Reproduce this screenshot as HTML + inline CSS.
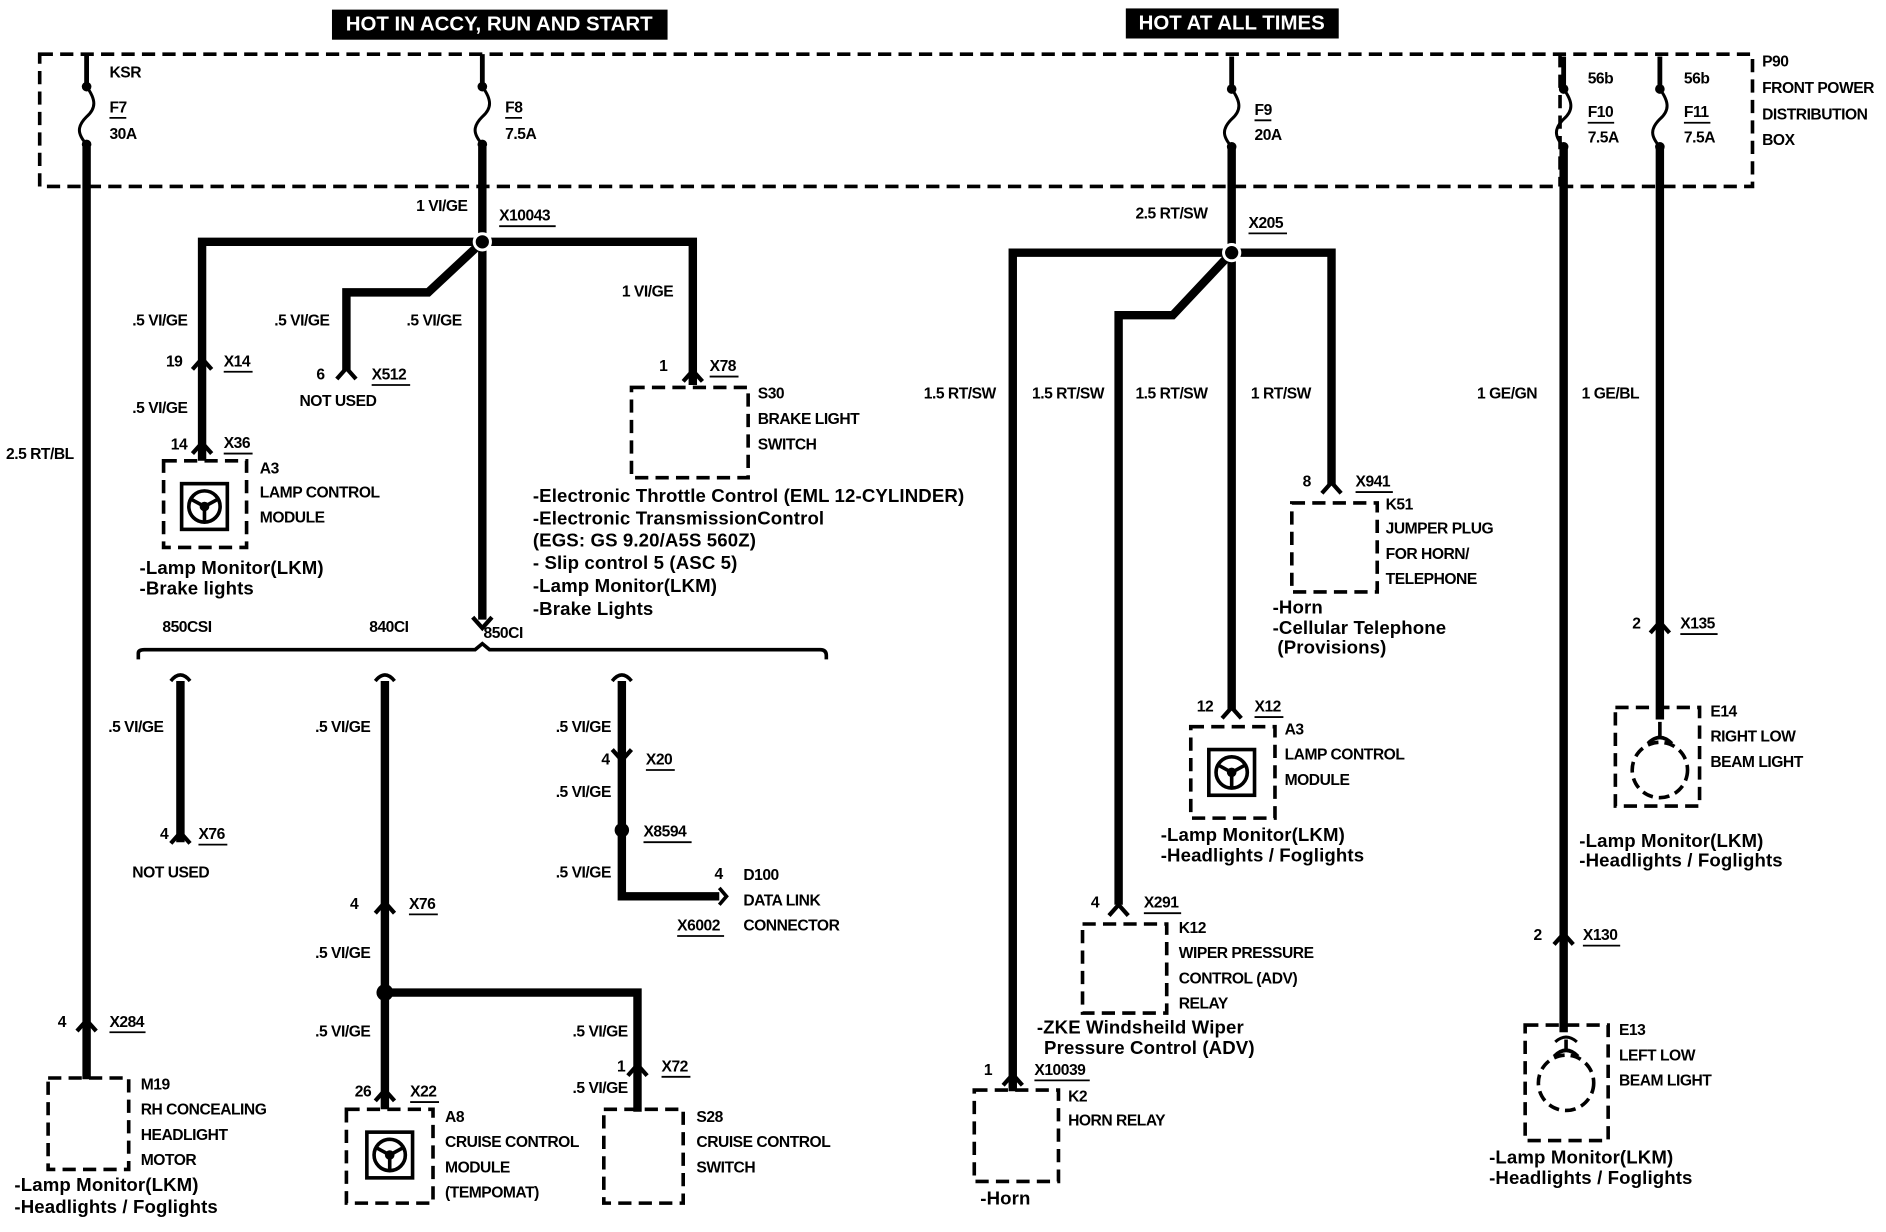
<!DOCTYPE html>
<html><head><meta charset="utf-8"><style>
html,body{margin:0;padding:0;background:#fff}
svg{display:block}
text{font-family:"Liberation Sans",Arial,sans-serif;font-weight:bold;fill:#000;dominant-baseline:middle}
.s{font-size:13px;letter-spacing:-0.4px}
.l{font-size:15.5px;letter-spacing:0.1px}
.h{font-size:17px;fill:#fff}
.w{stroke:#000;stroke-width:7;fill:none;stroke-linejoin:miter}
.d{stroke:#000;stroke-width:3;fill:none;stroke-dasharray:11 6}
.t{stroke:#000;stroke-width:2.5;fill:none}
.u{stroke:#000;stroke-width:1.5}
</style></head><body>
<svg width="1886" height="1232" viewBox="0 0 1568 1024" preserveAspectRatio="none" xmlns="http://www.w3.org/2000/svg">
<defs>
<path id="c" d="M-8,7 L0,-2 L8,7" stroke="#000" stroke-width="3.5" fill="none"/>
<path id="cd" d="M-8,-7 L0,2 L8,-7" stroke="#000" stroke-width="3.5" fill="none"/>
<g id="fuse"><line x1="0" y1="0" x2="0" y2="27" stroke="#000" stroke-width="4"/><circle cx="0" cy="27" r="4"/><path d="M0,27 C8,38 8,45 0,52 C-8,60 -8,66 0,75" stroke="#000" stroke-width="2.5" fill="none"/><circle cx="0" cy="75" r="4"/></g>
<g id="steer"><rect x="-19" y="-19" width="38" height="38" fill="none" stroke="#000" stroke-width="3"/><circle r="13" fill="none" stroke="#000" stroke-width="3"/><circle r="4"/><path d="M0,0 L-11,-6 M0,0 L11,-6 M0,0 L0,13" stroke="#000" stroke-width="3"/></g>
<g id="lamp"><circle r="23" fill="none" stroke="#000" stroke-width="3" stroke-dasharray="9 5"/><path d="M-10,-22 Q0,-32 10,-22" stroke="#000" stroke-width="3" fill="none"/><line x1="0" y1="-40" x2="0" y2="-27" stroke="#000" stroke-width="3"/></g>
</defs>
<rect x="0" y="0" width="1568" height="1024" fill="#fff"/>
<rect x="276" y="8" width="279" height="25" fill="#000"/><text class="h" x="415" y="21" text-anchor="middle">HOT IN ACCY, RUN AND START</text>
<rect x="936" y="7" width="177" height="25" fill="#000"/><text class="h" x="1024" y="20" text-anchor="middle">HOT AT ALL TIMES</text>
<path class="d" d="M33,45 H1457 V155 H33 Z"/>
<path class="d" d="M1297,45 V155"/>
<text class="s" x="1465" y="52">P90</text><text class="s" x="1465" y="74">FRONT POWER</text><text class="s" x="1465" y="96">DISTRIBUTION</text><text class="s" x="1465" y="117">BOX</text>
<use href="#fuse" x="72" y="45"/><use href="#fuse" x="401" y="45"/><use href="#fuse" x="1024" y="47"/><use href="#fuse" x="1300" y="47"/><use href="#fuse" x="1380" y="47"/>
<text class="s" x="91" y="61">KSR</text><text class="s" x="91" y="90">F7</text><line class="u" x1="91" y1="98" x2="105" y2="98"/><text class="s" x="91" y="112">30A</text>
<text class="s" x="420" y="90">F8</text><line class="u" x1="420" y1="98" x2="434" y2="98"/><text class="s" x="420" y="112">7.5A</text>
<text class="s" x="1043" y="92">F9</text><line class="u" x1="1043" y1="100" x2="1057" y2="100"/><text class="s" x="1043" y="113">20A</text>
<text class="s" x="1320" y="66">56b</text><text class="s" x="1320" y="94">F10</text><line class="u" x1="1320" y1="102" x2="1342" y2="102"/><text class="s" x="1320" y="115">7.5A</text>
<text class="s" x="1400" y="66">56b</text><text class="s" x="1400" y="94">F11</text><line class="u" x1="1400" y1="102" x2="1422" y2="102"/><text class="s" x="1400" y="115">7.5A</text>

<path class="w" d="M72,122 V897"/><use href="#c" x="72" y="850"/>
<text class="s" x="5" y="378">2.5 RT/BL</text>
<text class="s" x="48" y="850">4</text><text class="s" x="91" y="850">X284</text><line class="u" x1="91" y1="858" x2="121" y2="858"/>
<rect class="d" x="40" y="896" width="67" height="76"/>
<text class="s" x="117" y="902">M19</text><text class="s" x="117" y="923">RH CONCEALING</text><text class="s" x="117" y="944">HEADLIGHT</text><text class="s" x="117" y="965">MOTOR</text>
<text class="l" x="12" y="986">-Lamp Monitor(LKM)</text><text class="l" x="12" y="1004">-Headlights / Foglights</text>

<path class="w" d="M401,122 V515"/>
<text class="s" x="346" y="172">1 VI/GE</text><text class="s" x="415" y="180">X10043</text><line class="u" x1="415" y1="188" x2="462" y2="188"/>
<path class="w" d="M168,383 V201 H576 V320"/>
<path class="w" d="M401,201 L356,243 H288 V308"/>
<circle cx="401" cy="201" r="8" fill="#fff"/><circle cx="401" cy="201" r="5.5"/>
<text class="s" x="110" y="267">.5 VI/GE</text><text class="s" x="228" y="267">.5 VI/GE</text><text class="s" x="338" y="267">.5 VI/GE</text><text class="s" x="517" y="243">1 VI/GE</text>
<use href="#c" x="168" y="300"/><text class="s" x="138" y="301">19</text><text class="s" x="186" y="301">X14</text><line class="u" x1="186" y1="309" x2="210" y2="309"/>
<text class="s" x="110" y="340">.5 VI/GE</text>
<use href="#c" x="168" y="370"/><text class="s" x="142" y="370">14</text><text class="s" x="186" y="369">X36</text><line class="u" x1="186" y1="377" x2="210" y2="377"/>
<rect class="d" x="136" y="383" width="69" height="72"/><use href="#steer" x="170" y="421"/>
<text class="s" x="216" y="390">A3</text><text class="s" x="216" y="410">LAMP CONTROL</text><text class="s" x="216" y="431">MODULE</text>
<text class="l" x="116" y="473">-Lamp Monitor(LKM)</text><text class="l" x="116" y="490">-Brake lights</text>
<use href="#c" x="288" y="308"/><text class="s" x="263" y="312">6</text><text class="s" x="309" y="312">X512</text><line class="u" x1="309" y1="320" x2="341" y2="320"/><text class="s" x="249" y="334">NOT USED</text>
<use href="#c" x="576" y="310"/><text class="s" x="548" y="305">1</text><text class="s" x="590" y="305">X78</text><line class="u" x1="590" y1="313" x2="614" y2="313"/>
<rect class="d" x="525" y="322" width="97" height="75"/>
<text class="s" x="630" y="328">S30</text><text class="s" x="630" y="349">BRAKE LIGHT</text><text class="s" x="630" y="370">SWITCH</text>
<text class="l" x="443" y="413">-Electronic Throttle Control (EML 12-CYLINDER)</text>
<text class="l" x="443" y="432">-Electronic TransmissionControl</text>
<text class="l" x="443" y="450">(EGS: GS 9.20/A5S 560Z)</text>
<text class="l" x="443" y="469">- Slip control 5 (ASC 5)</text>
<text class="l" x="443" y="488">-Lamp Monitor(LKM)</text>
<text class="l" x="443" y="507">-Brake Lights</text>
<use href="#cd" x="401" y="520"/><text class="s" x="402" y="527">850CI</text>
<path class="t" style="stroke-width:3" d="M115,548 V543 Q115,540 120,540 H395 L401,535 L407,540 H682 Q687,540 687,545 V548"/>
<text class="s" x="135" y="522">850CSI</text><text class="s" x="307" y="522">840CI</text>

<path class="w" d="M150,566 V700"/><path d="M142,566 Q150,556 158,566" class="t" style="stroke-width:3"/>
<use href="#c" x="150" y="694"/><text class="s" x="90" y="605">.5 VI/GE</text><text class="s" x="133" y="694">4</text><text class="s" x="165" y="694">X76</text><line class="u" x1="165" y1="702" x2="189" y2="702"/>
<text class="s" x="110" y="726">NOT USED</text>
<path class="w" d="M320,566 V922"/><path d="M312,566 Q320,556 328,566" class="t" style="stroke-width:3"/>
<path class="w" d="M320,825 H530 V924"/>
<circle cx="320" cy="825" r="7"/>
<use href="#c" x="320" y="752"/><text class="s" x="291" y="752">4</text><text class="s" x="340" y="752">X76</text><line class="u" x1="340" y1="760" x2="364" y2="760"/>
<text class="s" x="262" y="605">.5 VI/GE</text><text class="s" x="262" y="793">.5 VI/GE</text><text class="s" x="262" y="858">.5 VI/GE</text>
<use href="#c" x="320" y="908"/><text class="s" x="295" y="908">26</text><text class="s" x="341" y="908">X22</text><line class="u" x1="341" y1="916" x2="365" y2="916"/>
<rect class="d" x="288" y="922" width="72" height="78"/><use href="#steer" x="324" y="960"/>
<text class="s" x="370" y="929">A8</text><text class="s" x="370" y="950">CRUISE CONTROL</text><text class="s" x="370" y="971">MODULE</text><text class="s" x="370" y="992">(TEMPOMAT)</text>
<use href="#c" x="530" y="887"/><text class="s" x="476" y="858">.5 VI/GE</text><text class="s" x="513" y="887">1</text><text class="s" x="550" y="887">X72</text><line class="u" x1="550" y1="895" x2="574" y2="895"/><text class="s" x="476" y="905">.5 VI/GE</text>
<rect class="d" x="502" y="922" width="66" height="78"/>
<text class="s" x="579" y="929">S28</text><text class="s" x="579" y="950">CRUISE CONTROL</text><text class="s" x="579" y="971">SWITCH</text>
<path class="w" d="M517,566 V745 H598"/><path d="M509,566 Q517,556 525,566" class="t" style="stroke-width:3"/>
<path class="t" style="stroke-width:3" d="M598,738 L604,745 L598,752"/>
<use href="#cd" x="517" y="630"/><text class="s" x="500" y="632">4</text><text class="s" x="537" y="632">X20</text><line class="u" x1="537" y1="640" x2="561" y2="640"/>
<circle cx="517" cy="690" r="6"/><text class="s" x="535" y="692">X8594</text><line class="u" x1="535" y1="700" x2="575" y2="700"/>
<text class="s" x="462" y="605">.5 VI/GE</text><text class="s" x="462" y="659">.5 VI/GE</text><text class="s" x="462" y="726">.5 VI/GE</text>
<text class="s" x="594" y="727">4</text><text class="s" x="618" y="728">D100</text><text class="s" x="618" y="749">DATA LINK</text><text class="s" x="618" y="770">CONNECTOR</text>
<text class="s" x="563" y="770">X6002</text><line class="u" x1="563" y1="778" x2="602" y2="778"/>

<path class="w" d="M1024,122 V590"/>
<text class="s" x="944" y="178">2.5 RT/SW</text><text class="s" x="1038" y="186">X205</text><line class="u" x1="1038" y1="194" x2="1070" y2="194"/>
<path class="w" d="M842,907 V210 H1107 V403"/>
<path class="w" d="M1024,210 L975,262 H930 V752"/>
<circle cx="1024" cy="210" r="8" fill="#fff"/><circle cx="1024" cy="210" r="5.5"/>
<text class="s" x="768" y="328">1.5 RT/SW</text><text class="s" x="858" y="328">1.5 RT/SW</text><text class="s" x="944" y="328">1.5 RT/SW</text><text class="s" x="1040" y="328">1 RT/SW</text>
<use href="#c" x="1107" y="403"/><text class="s" x="1083" y="401">8</text><text class="s" x="1127" y="401">X941</text><line class="u" x1="1127" y1="409" x2="1158" y2="409"/>
<rect class="d" x="1074" y="418" width="71" height="74"/>
<text class="s" x="1152" y="420">K51</text><text class="s" x="1152" y="440">JUMPER PLUG</text><text class="s" x="1152" y="461">FOR HORN/</text><text class="s" x="1152" y="482">TELEPHONE</text>
<text class="l" x="1058" y="506">-Horn</text><text class="l" x="1058" y="523">-Cellular Telephone</text><text class="l" x="1062" y="539">(Provisions)</text>
<use href="#c" x="1024" y="590"/><text class="s" x="995" y="588">12</text><text class="s" x="1043" y="588">X12</text><line class="u" x1="1043" y1="596" x2="1067" y2="596"/>
<rect class="d" x="990" y="604" width="70" height="76"/><use href="#steer" x="1024" y="642"/>
<text class="s" x="1068" y="607">A3</text><text class="s" x="1068" y="628">LAMP CONTROL</text><text class="s" x="1068" y="649">MODULE</text>
<text class="l" x="965" y="695">-Lamp Monitor(LKM)</text><text class="l" x="965" y="712">-Headlights / Foglights</text>
<use href="#c" x="930" y="754"/><text class="s" x="907" y="751">4</text><text class="s" x="951" y="751">X291</text><line class="u" x1="951" y1="759" x2="982" y2="759"/>
<rect class="d" x="900" y="768" width="70" height="74"/>
<text class="s" x="980" y="772">K12</text><text class="s" x="980" y="793">WIPER PRESSURE</text><text class="s" x="980" y="814">CONTROL (ADV)</text><text class="s" x="980" y="835">RELAY</text>
<text class="l" x="862" y="855">-ZKE Windsheild Wiper</text><text class="l" x="868" y="872">Pressure Control (ADV)</text>
<use href="#c" x="842" y="895"/><text class="s" x="818" y="890">1</text><text class="s" x="860" y="890">X10039</text><line class="u" x1="860" y1="898" x2="906" y2="898"/>
<rect class="d" x="810" y="906" width="70" height="76"/>
<text class="s" x="888" y="912">K2</text><text class="s" x="888" y="932">HORN RELAY</text>
<text class="l" x="815" y="997">-Horn</text>

<path class="w" d="M1300,122 V860"/>
<text class="s" x="1228" y="328">1  GE/GN</text>
<use href="#c" x="1300" y="778"/><text class="s" x="1275" y="778">2</text><text class="s" x="1316" y="778">X130</text><line class="u" x1="1316" y1="786" x2="1347" y2="786"/>
<rect class="d" x="1268" y="852" width="69" height="96"/><use href="#lamp" x="1302" y="900"/>
<rect x="1294" y="858" width="14" height="6" fill="#fff"/><path d="M1293,866 Q1302,858 1311,866" class="t"/>
<text class="s" x="1346" y="857">E13</text><text class="s" x="1346" y="878">LEFT LOW</text><text class="s" x="1346" y="899">BEAM LIGHT</text>
<text class="l" x="1238" y="963">-Lamp Monitor(LKM)</text><text class="l" x="1238" y="980">-Headlights / Foglights</text>
<path class="w" d="M1380,122 V598"/>
<text class="s" x="1315" y="328">1 GE/BL</text>
<use href="#c" x="1380" y="519"/><text class="s" x="1357" y="519">2</text><text class="s" x="1397" y="519">X135</text><line class="u" x1="1397" y1="527" x2="1428" y2="527"/>
<rect class="d" x="1343" y="588" width="70" height="82"/><use href="#lamp" x="1380" y="640"/>
<text class="s" x="1422" y="592">E14</text><text class="s" x="1422" y="613">RIGHT LOW</text><text class="s" x="1422" y="634">BEAM LIGHT</text>
<text class="l" x="1313" y="700">-Lamp Monitor(LKM)</text><text class="l" x="1313" y="716">-Headlights / Foglights</text>
</svg>
</body></html>
